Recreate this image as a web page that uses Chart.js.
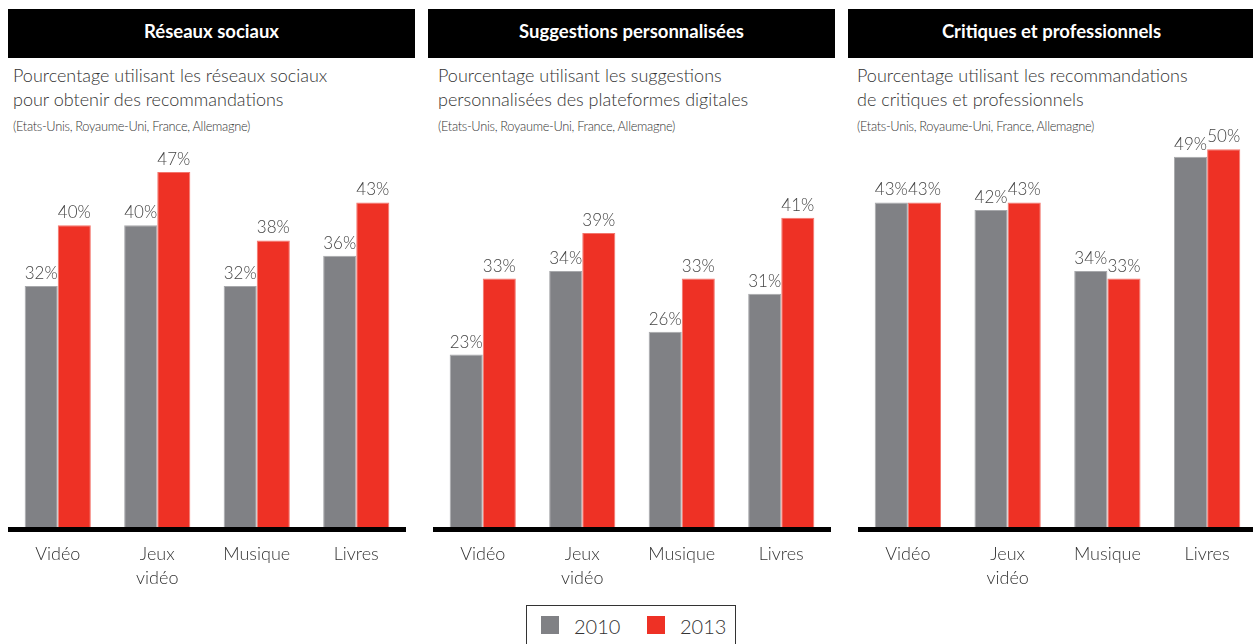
<!DOCTYPE html>
<html lang="fr">
<head>
<meta charset="utf-8">
<script src="https://cdn.jsdelivr.net/npm/chart.js@4/dist/chart.umd.min.js"></script>
<style>
  html, body { margin: 0; padding: 0; background: #fff; }
  body { width: 1253px; height: 644px; position: relative; overflow: hidden; font-family: Lato, "Open Sans", sans-serif; color: #333; }
  .head { position: absolute; top: 9px; height: 49px; width: 407px; background: #000; color: #fff;
          font-weight: 700; font-size: 18.5px; line-height: 45px; text-align: center; }
  .sub { position: absolute; top: 63px; font-weight: 300; font-size: 18px; line-height: 24px; color: #333; white-space: nowrap; }
  .sub small { display: block; font-size: 12.8px; line-height: 18px; margin-top: 6px; letter-spacing: -0.3px; }
  canvas { position: absolute; top: 120px; }
  #legend { position: absolute; left: 526px; top: 605px; width: 208px; height: 50px; border: 1px solid #333;
            font-weight: 300; font-size: 20px; color: #333; }
  #legend span.sw { position: absolute; top: 10px; width: 18px; height: 18px; }
  #legend span.tx { position: absolute; top: 8px; line-height: 24px; }
</style>
</head>
<body>

<div class="head" style="left:8px">Réseaux sociaux</div>
<div class="head" style="left:428px">Suggestions personnalisées</div>
<div class="head" style="left:848px">Critiques et professionnels</div>

<div class="sub" style="left:13px">Pourcentage utilisant les réseaux sociaux<br>pour obtenir des recommandations<small>(Etats-Unis, Royaume-Uni, France, Allemagne)</small></div>
<div class="sub" style="left:438px">Pourcentage utilisant les suggestions<br>personnalisées des plateformes digitales<small>(Etats-Unis, Royaume-Uni, France, Allemagne)</small></div>
<div class="sub" style="left:857px">Pourcentage utilisant les recommandations<br>de critiques et professionnels<small>(Etats-Unis, Royaume-Uni, France, Allemagne)</small></div>

<canvas id="c1" width="398" height="480" style="left:8px"></canvas>
<canvas id="c2" width="398" height="480" style="left:433px"></canvas>
<canvas id="c3" width="399" height="480" style="left:858px"></canvas>

<div id="legend"></div>

<script>
// données
const categories = ['Vidéo', ['Jeux', 'vidéo'], 'Musique', 'Livres'];
const seriesNames = ['2010', '2013'];
const seriesColors = ['#808185', '#ee3125'];
const seriesBorders = ['#a8a9ac', '#f3766d'];

const reseaux2010 = [32, 40, 32, 36];
const reseaux2013 = [40, 47, 38, 43];
const suggestions2010 = [23, 34, 26, 31];
const suggestions2013 = [33, 39, 33, 41];
const critiques2010 = [43, 42, 34, 49];
const critiques2013 = [43, 43, 33, 50];

// étiquettes de valeur au-dessus des barres
const valueLabels = {
  id: 'valueLabels',
  afterDatasetsDraw(chart) {
    const ctx = chart.ctx;
    ctx.save();
    ctx.font = '300 17px Lato, sans-serif';
    ctx.fillStyle = '#444';
    ctx.textAlign = 'center';
    ctx.textBaseline = 'alphabetic';
    chart.data.datasets.forEach((ds, i) => {
      chart.getDatasetMeta(i).data.forEach((bar, j) => {
        ctx.fillText(ds.data[j] + '%', bar.x, bar.y - 7);
      });
    });
    ctx.restore();
  }
};

function makeChart(id, data2010, data2013) {
  const ctx = document.getElementById(id).getContext('2d');
  return new Chart(ctx, {
    type: 'bar',
    data: {
      labels: categories,
      datasets: [data2010, data2013].map((d, i) => ({
        label: seriesNames[i],
        data: d,
        backgroundColor: seriesColors[i],
        borderColor: seriesBorders[i],
        borderWidth: 1,
        borderSkipped: 'bottom',
        barPercentage: 1,
        categoryPercentage: 0.665
      }))
    },
    options: {
      responsive: false,
      devicePixelRatio: 1,
      animation: false,
      layout: { padding: { top: 14 } },
      plugins: { legend: { display: false }, tooltip: { enabled: false } },
      scales: {
        y: { display: false, min: 0, max: 52 },
        x: {
          grid: { display: false, drawTicks: false },
          border: { display: true, color: '#000', width: 5, z: 1 },
          ticks: {
            padding: 13,
            color: '#333',
            font: { family: 'Lato', weight: 300, size: 18, lineHeight: 1.33 }
          },
          afterFit: function(axis) { axis.height = 70.5; }
        }
      }
    },
    plugins: [valueLabels]
  });
}

makeChart('c1', reseaux2010, reseaux2013);
makeChart('c2', suggestions2010, suggestions2013);
makeChart('c3', critiques2010, critiques2013);

// légende
const legend = document.getElementById('legend');
const swLeft = [14, 120];
seriesNames.forEach((name, i) => {
  const sw = document.createElement('span');
  sw.className = 'sw';
  sw.style.left = swLeft[i] + 'px';
  sw.style.background = seriesColors[i];
  legend.appendChild(sw);
  const tx = document.createElement('span');
  tx.className = 'tx';
  tx.style.left = (swLeft[i] + 33) + 'px';
  tx.textContent = name;
  legend.appendChild(tx);
});
</script>
</body>
</html>
